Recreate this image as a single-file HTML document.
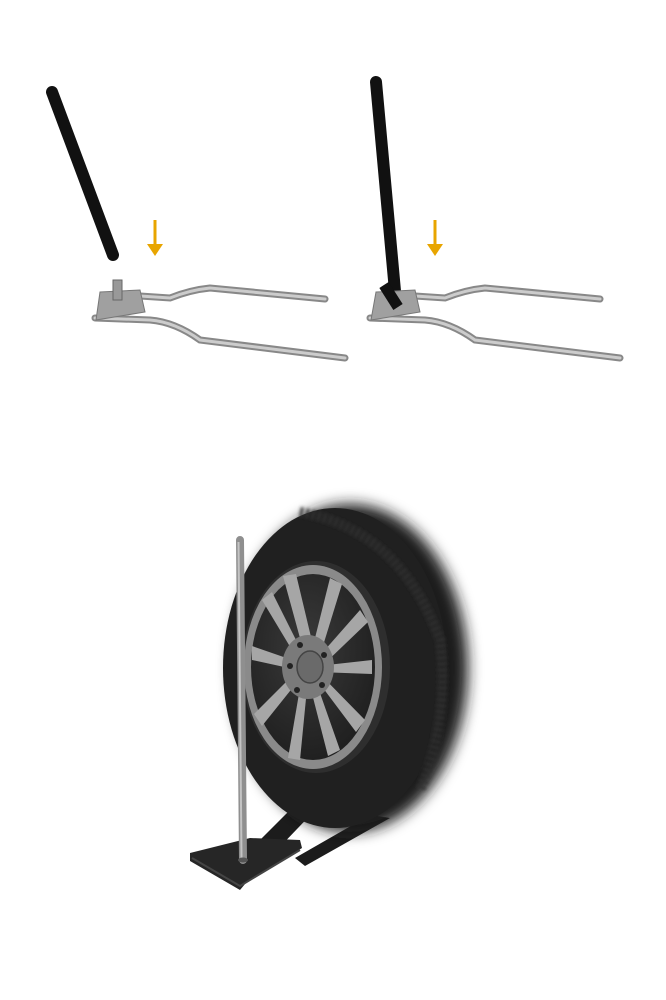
<!DOCTYPE html>
<html><head><meta charset="utf-8"><style>
html,body{margin:0;padding:0;background:#fff;}
svg{display:block;}
</style></head><body>
<svg width="666" height="1000" viewBox="0 0 666 1000" xmlns="http://www.w3.org/2000/svg">
<defs>
<radialGradient id="rim" cx="0.45" cy="0.4" r="0.65">
<stop offset="0" stop-color="#3a3a3a"/><stop offset="1" stop-color="#1e1e1e"/>
</radialGradient>
<filter id="blur"><feGaussianBlur stdDeviation="7"/></filter>
<filter id="blur2"><feGaussianBlur stdDeviation="1.5"/></filter>
</defs>

<!-- Top-left -->
<g>
<path d="M52 92 L113 255" stroke="#111" stroke-width="12" stroke-linecap="round"/>
<path d="M155 220 V248" stroke="#e8a500" stroke-width="3"/>
<path d="M147 244 L155 256 L163 244 Z" fill="#e8a500"/>
<path d="M140 296 L170 298 Q190 290 210 288 L325 299" fill="none" stroke="#888" stroke-width="7" stroke-linecap="round"/>
<path d="M140 296 L170 298 Q190 290 210 288 L325 299" fill="none" stroke="#ccc" stroke-width="3" stroke-linecap="round"/>
<path d="M95 318 L150 320 Q175 322 200 340 L345 358" fill="none" stroke="#888" stroke-width="7" stroke-linecap="round"/>
<path d="M95 318 L150 320 Q175 322 200 340 L345 358" fill="none" stroke="#ccc" stroke-width="3" stroke-linecap="round"/>
<path d="M100 292 L140 290 L145 312 L96 320 Z" fill="#a0a0a0" stroke="#777"/>
<rect x="113" y="280" width="9" height="20" fill="#999" stroke="#666"/>
</g>

<!-- Top-right -->
<g>
<path d="M376 82 L396 302" stroke="#111" stroke-width="12" stroke-linecap="round"/>
<path d="M435 220 V248" stroke="#e8a500" stroke-width="3"/>
<path d="M427 244 L435 256 L443 244 Z" fill="#e8a500"/>
<path d="M415 296 L445 298 Q465 290 485 288 L600 299" fill="none" stroke="#888" stroke-width="7" stroke-linecap="round"/>
<path d="M415 296 L445 298 Q465 290 485 288 L600 299" fill="none" stroke="#ccc" stroke-width="3" stroke-linecap="round"/>
<path d="M370 318 L425 320 Q450 322 475 340 L620 358" fill="none" stroke="#888" stroke-width="7" stroke-linecap="round"/>
<path d="M370 318 L425 320 Q450 322 475 340 L620 358" fill="none" stroke="#ccc" stroke-width="3" stroke-linecap="round"/>
<path d="M376 292 L415 290 L420 312 L371 320 Z" fill="#a0a0a0" stroke="#777"/>
<path d="M384 285 L398 307" stroke="#111" stroke-width="11"/>
</g>

<!-- Wheel -->
<g>
<!-- straps -->
<path d="M250 850 L300 800 L320 805 L275 852 Z" fill="#1c1c1c"/>
<path d="M295 858 L370 815 L390 818 L305 866 Z" fill="#1c1c1c"/>
<!-- tire -->
<ellipse cx="350" cy="668" rx="118" ry="164" fill="#1a1a1a" filter="url(#blur)"/>
<ellipse cx="335" cy="668" rx="112" ry="160" fill="#202020"/>
<path d="M300 512 Q400 530 440 640 Q450 720 420 790" fill="none" stroke="#333" stroke-width="10" stroke-dasharray="3 3" filter="url(#blur2)"/>
<ellipse cx="316" cy="667" rx="74" ry="106" fill="#2e2e2e"/>
<ellipse cx="313" cy="667" rx="69" ry="102" fill="#8a8a8a"/>
<ellipse cx="313" cy="667" rx="62" ry="93" fill="url(#rim)"/>
<g fill="#a6a6a6">
<path d="M306 660 L283 576 L296 574 L316 658 Z"/>
<path d="M310 658 L330 578 L342 584 L318 662 Z"/>
<path d="M316 660 L360 610 L368 622 L320 668 Z"/>
<path d="M318 666 L372 660 L372 674 L318 672 Z"/>
<path d="M318 672 L365 720 L356 732 L314 676 Z"/>
<path d="M314 676 L340 750 L328 756 L308 678 Z"/>
<path d="M308 678 L300 760 L288 758 L302 676 Z"/>
<path d="M302 676 L262 726 L254 714 L298 670 Z"/>
<path d="M298 670 L252 660 L252 646 L298 662 Z"/>
<path d="M298 660 L262 600 L272 592 L304 656 Z"/>
</g>
<ellipse cx="308" cy="667" rx="26" ry="32" fill="#7a7a7a"/>
<ellipse cx="310" cy="667" rx="13" ry="16" fill="#6a6a6a" stroke="#444" stroke-width="1.5"/>
<g fill="#222">
<circle cx="300" cy="645" r="3"/><circle cx="324" cy="655" r="3"/><circle cx="322" cy="685" r="3"/><circle cx="297" cy="690" r="3"/><circle cx="290" cy="666" r="3"/>
</g>
<!-- base plate -->
<path d="M190 853 L250 838 L300 840 L302 848 L245 884 L240 890 L190 861 Z" fill="#262626"/>
<path d="M192 858 L240 886 L300 850" fill="none" stroke="#444" stroke-width="2"/>
<!-- pole -->
<path d="M240 540 L243 860" stroke="#8f8f8f" stroke-width="8" stroke-linecap="round"/>
<path d="M238.5 542 L241.5 858" stroke="#c4c4c4" stroke-width="2"/>
<ellipse cx="243" cy="860" rx="5" ry="2.5" fill="#555"/>
</g>
</svg>
</body></html>
